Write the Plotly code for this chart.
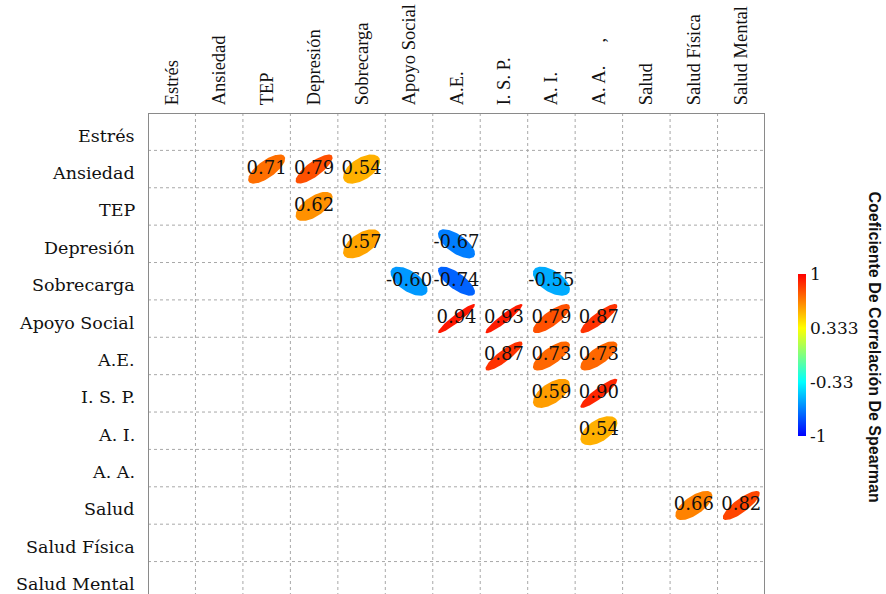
import numpy as np
import plotly.graph_objects as go
from plotly.colors import sample_colorscale

# Variables (rows top-to-bottom, columns left-to-right)
variables = ["Estrés", "Ansiedad", "TEP", "Depresión", "Sobrecarga", "Apoyo Social",
             "A.E.", "I. S. P.", "A. I.", "A. A.", "Salud", "Salud Física", "Salud Mental"]
column_labels = ["Estrés", "Ansiedad", "TEP", "Depresión", "Sobrecarga", "Apoyo Social",
                 "A.E.", "I. S. P.", "A. I.", "A. A.\u00a0\u00a0\u00a0\u00a0\u00a0,", "Salud",
                 "Salud Física", "Salud Mental"]

# Significant Spearman correlations (upper triangle)
row_var = ["Ansiedad", "Ansiedad", "Ansiedad",
           "TEP",
           "Depresión", "Depresión",
           "Sobrecarga", "Sobrecarga", "Sobrecarga",
           "Apoyo Social", "Apoyo Social", "Apoyo Social", "Apoyo Social",
           "A.E.", "A.E.", "A.E.",
           "I. S. P.", "I. S. P.",
           "A. I.",
           "Salud", "Salud"]
col_var = ["TEP", "Depresión", "Sobrecarga",
           "Depresión",
           "Sobrecarga", "A.E.",
           "Apoyo Social", "A.E.", "A. I.",
           "A.E.", "I. S. P.", "A. I.", "A. A.",
           "I. S. P.", "A. I.", "A. A.",
           "A. I.", "A. A.",
           "A. A.",
           "Salud Física", "Salud Mental"]
rho = [0.71, 0.79, 0.54,
       0.62,
       0.57, -0.67,
       -0.60, -0.74, -0.55,
       0.94, 0.93, 0.79, 0.87,
       0.87, 0.73, 0.73,
       0.59, 0.90,
       0.54,
       0.66, 0.82]

cbar_ticks = [-1, -0.33, 0.333, 1]
cbar_text = ["-1", "-0.33", "0.333", "1"]
colorscale = [[0.0, "#0000ff"], [0.3335, "#00ffff"], [0.6665, "#ffff00"], [1.0, "#ff0000"]]

# Page geometry (pixels)
W, H = 886, 594
plot_left, plot_right, plot_top = 148, 765, 113
plot_w = plot_right - plot_left
cell_h = 37.38
n = len(variables)
plot_h = H - plot_top
y_bottom = -0.5 + plot_h / cell_h

fig = go.Figure()

# Ellipses, corrplot style: x = cos(t + acos(r)/2), y = cos(t - acos(r)/2)
s = 0.39
t = np.linspace(0, 2 * np.pi, 120)
idx = {v: i for i, v in enumerate(variables)}
for rv, cv, r in zip(row_var, col_var, rho):
    a = np.arccos(r) / 2
    cx, cy = idx[cv], idx[rv]
    ex = cx + s * np.cos(t + a)
    ey = cy - s * np.cos(t - a)
    color = sample_colorscale(colorscale, [(r + 1) / 2])[0]
    fig.add_trace(go.Scatter(x=ex, y=ey, mode="lines", fill="toself",
                             fillcolor=color, line=dict(width=0, color=color),
                             hoverinfo="skip", showlegend=False))

# Coefficient labels
fig.add_trace(go.Scatter(
    x=[idx[c] for c in col_var], y=[idx[r] for r in row_var],
    mode="text", text=[f"{r:.2f}" for r in rho],
    textfont=dict(family="DejaVu Serif", size=18, color="#111111"),
    textposition="middle center", hoverinfo="skip", showlegend=False))

# Colour bar carrier
bar_top, bar_bottom = 274, 436
fig.add_trace(go.Scatter(
    x=[None, None], y=[None, None], mode="markers",
    marker=dict(color=[-1, 1], cmin=-1, cmax=1, colorscale=colorscale, showscale=True,
                colorbar=dict(
                    xref="paper", x=(788 - plot_left) / plot_w, xanchor="left",
                    xpad=10, ypad=0,
                    yref="paper", y=(H - (bar_top + bar_bottom) / 2) / plot_h,
                    yanchor="middle",
                    len=bar_bottom - bar_top, lenmode="pixels", thickness=8,
                    outlinewidth=0, ticks="", ticklen=0,
                    tickvals=cbar_ticks, ticktext=cbar_text,
                    tickfont=dict(family="DejaVu Serif", size=17, color="#111111"))),
    hoverinfo="skip", showlegend=False))

# Dotted cell grid
grid = dict(color="#a8a8a8", width=1, dash="dot")
for k in range(n - 1):
    fig.add_shape(type="line", x0=k + 0.5, x1=k + 0.5, y0=-0.5, y1=n - 0.5,
                  line=grid, layer="below")
    fig.add_shape(type="line", x0=-0.5, x1=n - 0.5, y0=k + 0.5, y1=k + 0.5,
                  line=grid, layer="below")

# Frame
frame = dict(color="#8a8a8a", width=2)
fig.add_shape(type="line", x0=-0.5, x1=-0.5, y0=-0.5, y1=n - 0.5, line=frame)
fig.add_shape(type="line", x0=n - 0.5, x1=n - 0.5, y0=-0.5, y1=n - 0.5, line=frame)
fig.add_shape(type="line", x0=-0.5, x1=n - 0.5, y0=-0.5, y1=-0.5, line=frame)

# Row labels
for i, name in enumerate(variables):
    fig.add_annotation(text=name, xref="paper", yref="y",
                       x=-11 / plot_w, xanchor="right", y=i, yanchor="middle",
                       yshift=-4, showarrow=False,
                       font=dict(family="DejaVu Serif", size=17.5, color="#111111"))

fig.add_annotation(text="<b>Coeficiente De Correlación De Spearman</b>",
                   xref="paper", yref="paper",
                   x=(W - 1 - plot_left) / plot_w, xanchor="right",
                   y=(H - 347) / plot_h, yanchor="middle",
                   textangle=90, showarrow=False,
                   font=dict(family="Liberation Sans", size=16, color="#111111"))

fig.update_layout(
    template="none",
    width=W, height=H,
    margin=dict(l=plot_left, r=W - plot_right, t=plot_top, b=0, pad=0, autoexpand=False),
    paper_bgcolor="white", plot_bgcolor="white",
    xaxis=dict(range=[-0.5, n - 0.5], side="top", tickmode="array",
               tickvals=list(range(n)), ticktext=column_labels, tickangle=-90,
               showgrid=False, zeroline=False, showline=False, automargin=False,
               ticks="outside", ticklen=3, tickcolor="rgba(0,0,0,0)",
               tickfont=dict(family="Liberation Serif", size=18.5, color="#111111"),
               fixedrange=True),
    yaxis=dict(range=[y_bottom, -0.5], showticklabels=False,
               showgrid=False, zeroline=False, showline=False, automargin=False,
               ticks="", fixedrange=True),
)

fig.write_html("out.html")
